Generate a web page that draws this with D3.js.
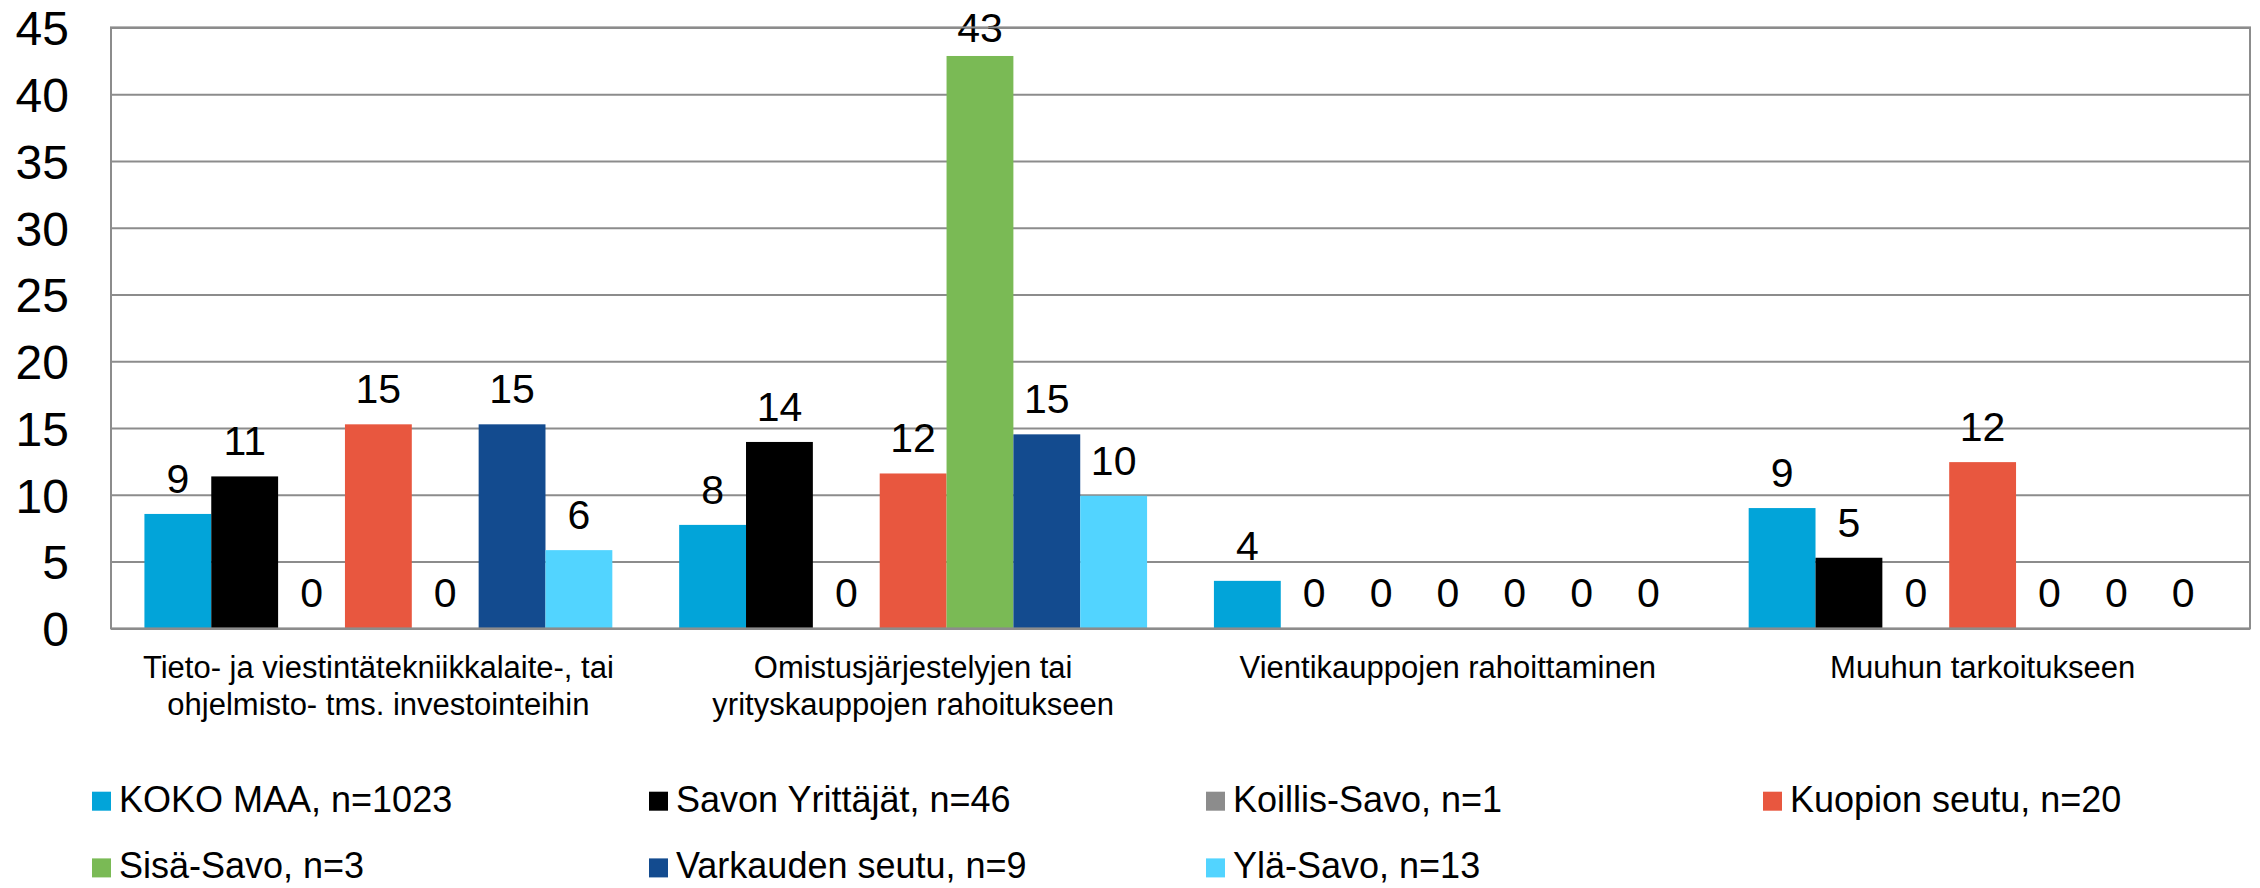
<!DOCTYPE html>
<html>
<head>
<meta charset="utf-8">
<script src="https://cdn.jsdelivr.net/npm/d3@7/dist/d3.min.js"></script>
<style>
  html, body { margin: 0; padding: 0; background: #fff; }
  svg { display: block; font-family: "Liberation Sans", Arial, sans-serif; }
</style>
</head>
<body>
<div id="chart"></div>
<script>
const categories = [
  ['Tieto- ja viestintätekniikkalaite-, tai', 'ohjelmisto- tms. investointeihin'],
  ['Omistusjärjestelyjen tai', 'yrityskauppojen rahoitukseen'],
  ['Vientikauppojen rahoittaminen'],
  ['Muuhun tarkoitukseen']
];
const seriesNames = ['KOKO MAA, n=1023', 'Savon Yrittäjät, n=46', 'Koillis-Savo, n=1', 'Kuopion seutu, n=20',
  'Sisä-Savo, n=3', 'Varkauden seutu, n=9', 'Ylä-Savo, n=13'];
const seriesColors = ['#02a4d9', '#000000', '#8c8c8c', '#e8573f', '#7aba55', '#134b8f', '#52d4ff'];

const kokoMaa = [8.57, 7.75, 3.56, 9.01];
const savonYrittajat = [11.38, 13.96, 0, 5.29];
const koillisSavo = [0, 0, 0, 0];
const kuopionSeutu = [15.28, 11.6, 0, 12.45];
const sisaSavo = [0, 42.86, 0, 0];
const varkaudenSeutu = [15.28, 14.53, 0, 0];
const ylaSavo = [5.86, 9.93, 0, 0];
const seriesValues = [kokoMaa, savonYrittajat, koillisSavo, kuopionSeutu, sisaSavo, varkaudenSeutu, ylaSavo];

const yTicks = [0, 5, 10, 15, 20, 25, 30, 35, 40, 45];

const width = 2260;
const height = 888;
const plot = { left: 111, right: 2250, top: 27.4, bottom: 628.4 };

const svg = d3.select('#chart').append('svg')
  .attr('width', width)
  .attr('height', height);

const x0 = d3.scaleBand()
  .domain(d3.range(categories.length))
  .range([plot.left, plot.right])
  .paddingInner(0.125)
  .paddingOuter(0.0625);

const x1 = d3.scaleBand()
  .domain(d3.range(seriesNames.length))
  .range([0, x0.bandwidth()]);

const y = d3.scaleLinear().domain([0, 45]).range([plot.bottom, plot.top]);

// gridlines + y labels
const yAxis = svg.append('g')
  .attr('transform', `translate(${plot.left},0)`)
  .call(d3.axisLeft(y).tickValues(yTicks).tickSize(-(plot.right - plot.left)).tickPadding(42));
yAxis.select('.domain').remove();
yAxis.selectAll('.tick line').attr('stroke', '#8c8c8c').attr('stroke-width', 2);
yAxis.selectAll('.tick text')
  .attr('fill', '#000')
  .attr('font-size', 48)
  .attr('font-family', '"Liberation Sans", Arial, sans-serif')
  .attr('dy', '0.36em');

// bars
const groups = svg.append('g')
  .selectAll('g')
  .data(categories.map((_, i) => i))
  .join('g')
  .attr('transform', (i) => `translate(${x0(i)},0)`);

groups.selectAll('rect')
  .data((i) => seriesValues.map((vals, s) => ({ s, v: vals[i] })))
  .join('rect')
  .attr('x', (d) => x1(d.s))
  .attr('y', (d) => y(d.v))
  .attr('width', x1.bandwidth())
  .attr('height', (d) => y(0) - y(d.v))
  .attr('fill', (d) => seriesColors[d.s]);

groups.selectAll('text')
  .data((i) => seriesValues.map((vals, s) => ({ s, v: vals[i] })))
  .join('text')
  .attr('x', (d) => x1(d.s) + x1.bandwidth() / 2)
  .attr('y', (d) => Math.max(y(d.v) - 21, 42))
  .attr('text-anchor', 'middle')
  .attr('font-size', 41)
  .attr('fill', '#000')
  .text((d) => d3.format('.0f')(d.v));

// plot frame
svg.append('rect')
  .attr('x', plot.left)
  .attr('y', plot.top)
  .attr('width', plot.right - plot.left)
  .attr('height', plot.bottom - plot.top)
  .attr('fill', 'none')
  .attr('stroke', '#8c8c8c')
  .attr('stroke-width', 2);

// category labels
const catLabels = svg.append('g')
  .selectAll('text')
  .data(categories)
  .join('text')
  .attr('x', (_, i) => x0(i) + x0.bandwidth() / 2)
  .attr('y', 678)
  .attr('text-anchor', 'middle')
  .attr('font-size', 31)
  .attr('fill', '#000');
catLabels.selectAll('tspan')
  .data((d) => d)
  .join('tspan')
  .attr('x', function () { return this.parentNode.getAttribute('x'); })
  .attr('dy', (_, j) => j === 0 ? 0 : 37)
  .text((d) => d);

// legend
const legend = svg.append('g')
  .selectAll('g')
  .data(seriesNames)
  .join('g')
  .attr('transform', (_, i) => `translate(${92 + (i % 4) * 557},${811.7 + Math.floor(i / 4) * 66.7})`);
legend.append('rect')
  .attr('x', 0)
  .attr('y', -20)
  .attr('width', 19)
  .attr('height', 19)
  .attr('fill', (_, i) => seriesColors[i]);
legend.append('text')
  .attr('x', 27)
  .attr('y', 0)
  .attr('font-size', 36)
  .attr('fill', '#000')
  .text((d) => d);
</script>
</body>
</html>
